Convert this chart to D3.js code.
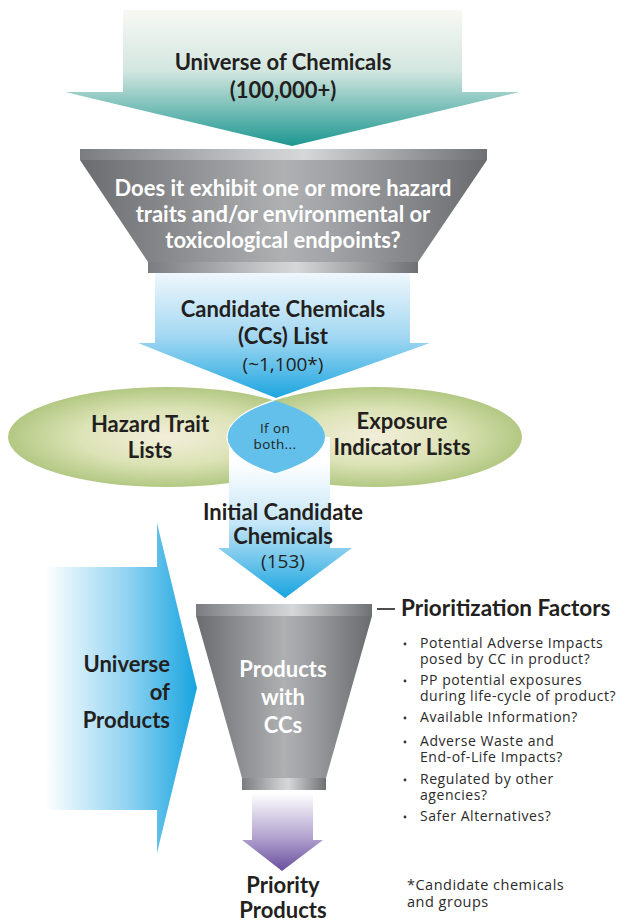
<!DOCTYPE html>
<html>
<head>
<meta charset="utf-8">
<script src="https://cdn.jsdelivr.net/npm/d3@7"></script>
<style>
  html, body { margin: 0; padding: 0; background: #fff; }
  svg { display: block; }
  text { font-family: Lato, "Open Sans", sans-serif; }
  text.reg { font-family: "Open Sans", sans-serif; }
</style>
</head>
<body>
<script>
// labels for each stage of the flow
var universeLines = ["Universe of Chemicals", "(100,000+)"];
var filterLines = ["Does it exhibit one or more hazard", "traits and/or environmental or", "toxicological endpoints?"];
var candidateLines = ["Candidate Chemicals", "(CCs) List", "(~1,100*)"];
var hazardLines = ["Hazard Trait", "Lists"];
var exposureLines = ["Exposure", "Indicator Lists"];
var overlapLines = ["If on", "both..."];
var initialLines = ["Initial Candidate", "Chemicals", "(153)"];
var productsLines = ["Universe", "of", "Products"];
var funnelLines = ["Products", "with", "CCs"];
var priorityLines = ["Priority", "Products"];
var factorsTitle = "Prioritization Factors";
var factors = [
  ["Potential Adverse Impacts", "posed by CC in product?"],
  ["PP potential exposures", "during life-cycle of product?"],
  ["Available Information?"],
  ["Adverse Waste and", "End-of-Life Impacts?"],
  ["Regulated by other", "agencies?"],
  ["Safer Alternatives?"]
];
var footnote = ["*Candidate chemicals", "and groups"];

var width = 626, height = 922;
var ink = "#231f20";

var svg = d3.select("body").append("svg")
    .attr("width", width)
    .attr("height", height);

var defs = svg.append("defs");

function linGrad(id, x1, y1, x2, y2, stops, units) {
  var g = defs.append("linearGradient")
      .attr("id", id)
      .attr("gradientUnits", units || "userSpaceOnUse")
      .attr("x1", x1).attr("y1", y1).attr("x2", x2).attr("y2", y2);
  g.selectAll("stop").data(stops).enter().append("stop")
      .attr("offset", function(d) { return d[0]; })
      .attr("stop-color", function(d) { return d[1]; });
}

linGrad("teal", 0, 10, 0, 145, [[0, "#f8f8f3"], [0.45, "#d3e6e0"], [1, "#1f9891"]]);
linGrad("blue1", 0, 273, 0, 400, [[0, "#eff7fc"], [0.5, "#a3d8f2"], [1, "#18a4df"]]);
linGrad("blue2", 0, 462, 0, 598, [[0, "#ffffff"], [0.45, "#c5e6f7"], [1, "#18a4df"]]);
linGrad("blueSide", 45, 0, 197, 0, [[0, "#ffffff"], [0.55, "#8fd2f1"], [1, "#18a4df"]]);
linGrad("purple", 0, 793, 0, 872, [[0, "#ffffff"], [0.55, "#b3a5d0"], [1, "#674c9c"]]);
linGrad("metal", 0, 0, 1, 0, [[0, "#6b6c6f"], [0.5, "#aeb0b2"], [0.6, "#a3a5a8"], [1, "#6a6b6e"]], "objectBoundingBox");
linGrad("rim", 0, 0, 1, 0, [[0, "#7b7c7f"], [0.45, "#c9cacc"], [0.55, "#d6d7d8"], [1, "#6f7073"]], "objectBoundingBox");

var rg = defs.append("radialGradient").attr("id", "green");
rg.append("stop").attr("offset", 0).attr("stop-color", "#f3eedb");
rg.append("stop").attr("offset", 0.55).attr("stop-color", "#dce3b6");
rg.append("stop").attr("offset", 1).attr("stop-color", "#b3c883");

var line = d3.line();

function arrowDown(sx0, sx1, top, wy, wx0, wx1, tipX, tipY) {
  return line([[sx0, top], [sx1, top], [sx1, wy], [wx1, wy], [tipX, tipY], [wx0, wy], [sx0, wy]]) + "Z";
}

function lines(g, data, x, y0, dy, opts) {
  g.selectAll(null).data(data).enter().append("text")
      .attr("class", function(d, i) { return ((opts.weights ? opts.weights[i] : opts.weight) || 400) < 700 ? "reg" : null; })
      .attr("x", x)
      .attr("y", function(d, i) { return y0 + i * dy; })
      .attr("text-anchor", opts.anchor || "middle")
      .attr("font-size", function(d, i) { return (opts.sizes ? opts.sizes[i] : opts.size) + "px"; })
      .attr("font-weight", function(d, i) { return (opts.weights ? opts.weights[i] : opts.weight) || 400; })
      .attr("letter-spacing", opts.spacing || null)
      .attr("fill", opts.fill || ink)
      .text(function(d) { return d; });
}

function funnel(g, top, rimH, x0, x1, bot, bx0, bx1) {
  g.append("path")
      .attr("d", line([[x0, top + rimH], [x1, top + rimH], [bx1, bot], [bx0, bot]]) + "Z")
      .attr("fill", "url(#metal)");
  g.append("rect").attr("x", x0).attr("y", top).attr("width", x1 - x0).attr("height", rimH)
      .attr("fill", "url(#rim)");
  g.append("rect").attr("x", bx0).attr("y", bot).attr("width", bx1 - bx0).attr("height", rimH)
      .attr("fill", "url(#rim)");
}

// top arrow
svg.append("path")
    .attr("d", arrowDown(123, 462, 10, 92, 65, 520, 292, 146))
    .attr("fill", "url(#teal)");
lines(svg, universeLines, 283, 70, 28, {size: 22, weight: 700});

// first funnel
var f1 = svg.append("g");
funnel(f1, 149, 11, 80, 487, 262, 148, 418);
lines(f1, filterLines, 283, 196, 26, {size: 22, weight: 700, fill: "#ffffff"});

// candidate chemicals arrow
svg.append("path")
    .attr("d", arrowDown(155, 410, 273, 343, 138, 430, 276, 398))
    .attr("fill", "url(#blue1)");
lines(svg, candidateLines, 283, 317, 27, {sizes: [22, 22, 19], weights: [700, 700, 400]});

// overlapping lists
svg.append("ellipse").attr("cx", 166.5).attr("cy", 437).attr("rx", 158.5).attr("ry", 50)
    .attr("fill", "url(#green)");
svg.append("ellipse").attr("cx", 374.5).attr("cy", 437).attr("rx", 147.5).attr("ry", 50)
    .attr("fill", "url(#green)");

// initial candidate arrow (drawn under the lens)
svg.append("path")
    .attr("d", arrowDown(229, 330, 437, 548, 218, 352, 285, 598))
    .attr("fill", "url(#blue2)");

defs.append("clipPath").attr("id", "lensClip")
  .append("ellipse").attr("cx", 166.5).attr("cy", 437).attr("rx", 158.5).attr("ry", 50);
svg.append("ellipse").attr("cx", 374.5).attr("cy", 437).attr("rx", 147.5).attr("ry", 50)
    .attr("clip-path", "url(#lensClip)")
    .attr("fill", "#62c0ea")
    .attr("stroke", "#ffffff")
    .attr("stroke-width", 1.2);

lines(svg, hazardLines, 150, 432, 26, {size: 22, weight: 700});
lines(svg, exposureLines, 402, 429, 26, {size: 22, weight: 700});
lines(svg, overlapLines, 275, 433, 16, {size: 13.5, weight: 400, spacing: 0.4});
lines(svg, initialLines, 283, 520, 24, {sizes: [22, 22, 19], weights: [700, 700, 400]});

// universe of products side arrow
svg.append("path")
    .attr("d", line([[45, 567], [157, 567], [157, 523], [197, 688], [157, 853], [157, 810], [45, 810]]) + "Z")
    .attr("fill", "url(#blueSide)");
lines(svg, productsLines, 170, 672, 28, {size: 22, weight: 700, anchor: "end"});

// purple arrow to priority products (under the funnel)
svg.append("path")
    .attr("d", arrowDown(252, 313, 785, 840, 242, 323, 282, 871))
    .attr("fill", "url(#purple)");

// second funnel
var f2 = svg.append("g");
funnel(f2, 604, 12, 196, 372, 778, 242, 326);
lines(f2, funnelLines, 283, 677, 28, {size: 22, weight: 700, fill: "#ffffff"});

lines(svg, priorityLines, 283, 893, 25, {size: 22, weight: 700});

// prioritization factors
svg.append("line")
    .attr("x1", 377).attr("x2", 395).attr("y1", 609).attr("y2", 609)
    .attr("stroke", ink).attr("stroke-width", 1.6);
svg.append("text")
    .attr("x", 401).attr("y", 616)
    .attr("font-size", "22.5px").attr("font-weight", 700).attr("fill", ink)
    .text(factorsTitle);

var itemY = [648, 685, 722, 746, 784, 821];
var items = svg.append("g").selectAll("g").data(factors).enter().append("g")
    .attr("transform", function(d, i) { return "translate(0," + itemY[i] + ")"; });
items.append("circle").attr("cx", 405).attr("cy", -4).attr("r", 1.4).attr("fill", "#333");
items.each(function(d) {
  lines(d3.select(this), d, 420, 0, 15.5, {size: 14, weight: 400, anchor: "start", fill: "#2b2b2b", spacing: 0.55});
});

lines(svg, footnote, 407, 890, 17, {size: 14.5, weight: 400, anchor: "start", fill: "#2b2b2b", spacing: 0.5});
</script>
</body>
</html>
